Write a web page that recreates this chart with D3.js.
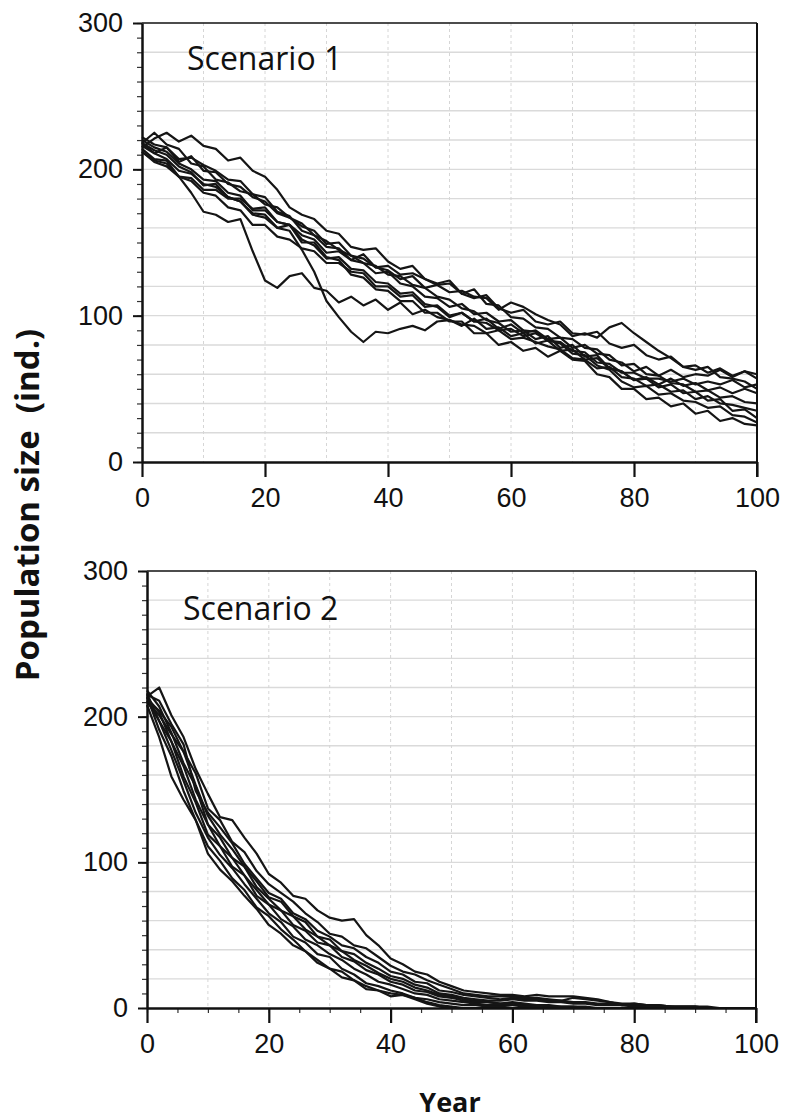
<!DOCTYPE html>
<html>
<head>
<meta charset="utf-8">
<script src="https://cdn.jsdelivr.net/npm/d3@7"></script>
<style>
  html, body { margin: 0; padding: 0; background: #fff; }
  svg { display: block; font-family: "Open Sans", "Noto Sans", sans-serif; }
</style>
</head>
<body>
<svg id="chart" width="787" height="1120"></svg>
<script>
// simulated runs, one value every 2 years (0..100)
const years = d3.range(0, 101, 2);
const yTickLabels = [0, 100, 200, 300];
const xTickLabels = [0, 20, 40, 60, 80, 100];

// Scenario 1: slow decline
const scenario1 = [
  [215,221,225,219,223,216,214,206,208,199,195,186,174,169,166,158,156,147,145,146,137,132,134,125,122,124,115,112,114,105,102,104,96,94,96,88,87,89,81,78,80,73,70,72,65,63,65,58,57,55,50],
  [212,206,204,195,184,171,169,164,166,144,124,119,127,129,119,117,109,113,107,111,104,109,101,104,99,97,93,98,91,92,86,88,81,83,76,77,70,71,64,62,56,57,51,53,47,48,42,43,35,36,30],
  [218,211,207,199,197,190,188,181,178,170,169,160,158,145,130,110,99,89,82,89,88,91,93,90,96,97,94,93,88,90,84,85,82,79,77,71,70,64,65,58,57,52,53,48,49,43,45,40,39,37,35],
  [222,217,215,205,209,199,198,190,188,181,178,170,167,161,158,149,150,141,139,133,131,125,127,119,121,116,117,113,112,104,109,106,101,97,94,86,88,85,92,95,88,82,76,71,65,66,61,64,59,62,57],
  [216,211,215,207,208,203,199,193,192,183,181,171,168,158,155,147,146,138,142,133,134,128,129,125,121,122,115,118,108,107,99,98,92,91,85,84,78,77,70,68,62,65,59,63,58,60,59,63,58,62,60],
  [218,213,210,202,198,189,190,181,178,169,167,160,162,152,148,139,140,132,131,123,122,115,116,108,106,99,102,96,95,90,91,86,88,83,81,74,73,66,63,55,51,52,46,47,42,41,37,38,32,31,27],
  [212,205,202,195,192,184,182,174,172,162,162,154,152,146,144,136,136,130,129,120,120,113,114,106,107,100,102,96,98,91,94,88,90,84,85,78,80,74,73,66,67,60,59,54,53,48,49,44,45,41,40],
  [220,215,212,204,200,193,192,184,182,172,172,164,162,155,152,143,144,138,136,129,130,122,120,113,112,106,108,101,102,96,97,90,89,83,82,76,75,68,67,61,61,57,57,55,57,53,55,53,56,51,53],
  [214,207,206,195,194,186,186,180,180,173,174,164,162,150,150,140,138,128,126,118,117,110,110,102,102,96,96,88,88,80,82,76,78,72,76,70,69,60,58,50,50,43,44,38,40,33,35,28,30,26,25],
  [218,225,217,214,204,202,193,191,185,183,176,174,167,163,155,151,145,141,136,134,128,127,121,119,113,111,105,103,97,95,89,90,84,86,78,80,72,73,64,62,56,58,53,57,52,54,49,51,47,50,47]
];

// Scenario 2: fast decline towards extinction
const scenario2 = [
  [214,220,201,186,164,147,131,129,117,106,92,86,77,75,67,62,60,61,50,43,34,30,25,23,18,15,12,11,10,9,9,8,9,8,8,8,7,6,4,3,3,2,2,1,1,1,0,0,0,0,0],
  [212,204,193,176,161,137,129,114,107,94,85,79,73,65,59,51,49,43,41,35,29,25,23,19,16,13,10,9,8,8,8,7,7,6,5,7,6,5,4,2,3,2,2,1,1,1,1,0,0,0,0],
  [215,211,195,181,149,134,124,113,99,89,79,75,65,61,53,49,43,41,35,31,25,23,18,17,12,11,9,8,7,6,7,6,6,5,5,4,4,3,3,2,2,2,1,1,1,1,0,0,0,0,0],
  [210,201,188,176,153,132,119,109,97,87,76,73,63,59,49,47,39,37,31,27,22,20,16,14,10,9,7,6,5,5,6,5,5,4,4,3,3,2,2,2,1,1,1,1,0,0,0,0,0,0,0],
  [218,207,189,168,152,126,117,103,97,83,75,67,63,54,49,43,39,33,29,24,20,18,14,12,9,8,6,5,4,3,4,3,2,2,1,1,1,0,0,0,0,0,0,0,0,0,0,0,0,0,0],
  [213,203,183,166,143,126,111,103,91,81,71,67,57,53,45,43,35,32,26,23,18,16,12,11,8,7,5,4,4,3,3,2,2,1,1,1,0,0,0,0,0,0,0,0,0,0,0,0,0,0,0],
  [216,197,183,159,141,119,111,97,91,77,71,61,56,47,43,37,33,27,23,18,16,13,10,9,6,5,4,3,2,2,2,1,1,0,0,0,0,0,0,0,0,0,0,0,0,0,0,0,0,0,0],
  [211,197,177,156,134,117,105,96,85,75,65,59,49,45,37,35,27,23,17,15,12,10,7,6,4,3,2,2,1,1,0,0,0,0,0,0,0,0,0,0,0,0,0,0,0,0,0,0,0,0,0],
  [214,191,173,149,129,111,101,89,81,69,63,54,47,39,33,27,25,19,15,12,10,9,7,4,2,1,0,0,0,0,0,0,0,0,0,0,0,0,0,0,0,0,0,0,0,0,0,0,0,0,0],
  [208,186,159,143,129,106,95,87,77,68,57,51,43,39,31,27,21,19,13,12,8,9,6,3,1,0,0,0,0,0,0,0,0,0,0,0,0,0,0,0,0,0,0,0,0,0,0,0,0,0,0]
];

const panels = [
  { label: "Scenario 1", runs: scenario1, left: 142, right: 757, top: 23, bottom: 462, labelX: 187, labelY: 70, minorX: false },
  { label: "Scenario 2", runs: scenario2, left: 147, right: 756, top: 571, bottom: 1008, labelX: 183, labelY: 620, minorX: true }
];

const svg = d3.select("#chart");

panels.forEach((p) => drawPanel(p));

function drawPanel(p) {
  const x = d3.scaleLinear().domain([0, 100]).range([p.left, p.right]);
  const y = d3.scaleLinear().domain([0, 300]).range([p.bottom, p.top]);
  const g = svg.append("g");

  // grid
  g.append("g")
    .selectAll("line")
    .data(y.ticks(15).filter((d) => d > 0 && d < 300))
    .join("line")
    .attr("x1", p.left).attr("x2", p.right)
    .attr("y1", (d) => y(d)).attr("y2", (d) => y(d))
    .attr("stroke", "#dadada")
    .attr("stroke-width", 1.4);

  g.append("g")
    .selectAll("line")
    .data(x.ticks(10).filter((d) => d > 0 && d < 100))
    .join("line")
    .attr("x1", (d) => x(d)).attr("x2", (d) => x(d))
    .attr("y1", p.top).attr("y2", p.bottom)
    .attr("stroke", "#d6d6d6")
    .attr("stroke-dasharray", "3,3")
    .attr("stroke-width", 1);

  // runs
  const line = d3.line()
    .x((d, i) => x(years[i]))
    .y((d) => y(d));

  g.append("g")
    .selectAll("path")
    .data(p.runs)
    .join("path")
    .attr("d", line)
    .attr("fill", "none")
    .attr("stroke", "#151515")
    .attr("stroke-width", 2.2)
    .attr("stroke-linejoin", "round");

  // frame
  g.append("line").attr("x1", p.left).attr("x2", p.right).attr("y1", p.top).attr("y2", p.top)
    .attr("stroke", "#111").attr("stroke-width", 1.6);
  g.append("line").attr("x1", p.right).attr("x2", p.right).attr("y1", p.top).attr("y2", p.bottom + 15)
    .attr("stroke", "#111").attr("stroke-width", 2);

  // y axis: minor + major
  g.append("g")
    .attr("transform", `translate(${p.left},0)`)
    .call(d3.axisLeft(y).tickValues(d3.range(0, 301, 10)).tickSize(5).tickFormat(""))
    .call((a) => a.select(".domain").remove())
    .selectAll("line").attr("stroke", "#333").attr("stroke-width", 1.2);

  const yAxis = g.append("g")
    .attr("transform", `translate(${p.left},0)`)
    .call(d3.axisLeft(y).tickValues(yTickLabels).tickSize(9).tickPadding(10).tickSizeOuter(0));
  yAxis.select(".domain").attr("stroke", "#111").attr("stroke-width", 2.5);
  yAxis.selectAll("line").attr("stroke", "#111").attr("stroke-width", 2);
  yAxis.selectAll("text").attr("font-size", 27).attr("fill", "#111").attr("font-family", null);

  // x axis: minor + major
  if (p.minorX) {
    g.append("g")
      .attr("transform", `translate(0,${p.bottom})`)
      .call(d3.axisBottom(x).tickValues(d3.range(0, 101, 5)).tickSize(5).tickFormat(""))
      .call((a) => a.select(".domain").remove())
      .selectAll("line").attr("stroke", "#333").attr("stroke-width", 1.2);
  }

  const xAxis = g.append("g")
    .attr("transform", `translate(0,${p.bottom})`)
    .call(d3.axisBottom(x).tickValues(xTickLabels).tickSize(15).tickPadding(11).tickSizeOuter(0));
  xAxis.select(".domain").attr("stroke", "#111").attr("stroke-width", 2.5);
  xAxis.selectAll("line").attr("stroke", "#111").attr("stroke-width", 2.2);
  xAxis.selectAll("text").attr("font-size", 27).attr("fill", "#111").attr("font-family", null);

  // scenario label
  g.append("text")
    .attr("x", p.labelX)
    .attr("y", p.labelY)
    .attr("font-size", 32)
    .attr("fill", "#111")
    .text(p.label);
}

// axis titles
svg.append("text")
  .attr("transform", "translate(39,505) rotate(-90)")
  .attr("text-anchor", "middle")
  .attr("font-size", 33)
  .attr("font-weight", "bold")
  .attr("fill", "#111")
  .attr("xml:space", "preserve")
  .text("Population size  (ind.)");

svg.append("text")
  .attr("x", 450)
  .attr("y", 1112)
  .attr("text-anchor", "middle")
  .attr("font-size", 27)
  .attr("font-weight", "bold")
  .attr("fill", "#111")
  .text("Year");
</script>
</body>
</html>
